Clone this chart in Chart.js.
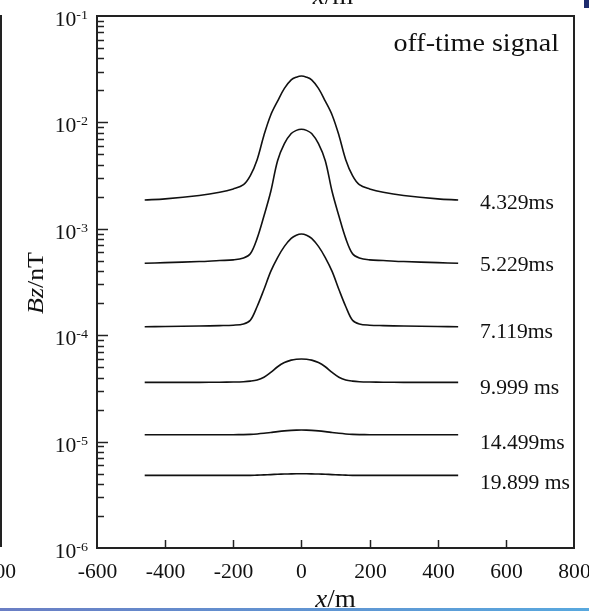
<!DOCTYPE html>
<html>
<head>
<meta charset="utf-8">
<script src="https://cdn.jsdelivr.net/npm/chart.js@4.4.1/dist/chart.umd.min.js"></script>
<style>
  html, body { margin: 0; padding: 0; background: #fff; }
  canvas { display: block; }
</style>
</head>
<body>
<canvas id="offTimeChart" width="589" height="611"></canvas>
<script>
// Profile positions (m)
const xPos = [-460, -400, -300, -240, -200, -170, -150, -130, -110, -90, -70, -50, -30, -15, 0,
              15, 30, 50, 70, 90, 110, 130, 150, 170, 200, 240, 300, 400, 460];

// Bz (nT), one array per delay time
const bz4329 = [1.866e-3, 1.910e-3, 2.056e-3, 2.203e-3, 2.371e-3, 2.600e-3, 3.162e-3, 4.467e-3, 7.586e-3, 1.175e-2, 1.585e-2, 2.089e-2, 2.512e-2, 2.661e-2, 2.729e-2,
                2.661e-2, 2.512e-2, 2.089e-2, 1.585e-2, 1.175e-2, 7.586e-3, 4.467e-3, 3.162e-3, 2.600e-3, 2.371e-3, 2.203e-3, 2.056e-3, 1.910e-3, 1.866e-3];
const bz5229 = [4.742e-4, 4.808e-4, 4.920e-4, 5.035e-4, 5.105e-4, 5.309e-4, 5.821e-4, 8.128e-4, 1.318e-3, 2.239e-3, 4.365e-3, 6.310e-3, 7.852e-3, 8.414e-3, 8.610e-3,
                8.414e-3, 7.852e-3, 6.310e-3, 4.365e-3, 2.239e-3, 1.318e-3, 8.128e-4, 5.821e-4, 5.309e-4, 5.105e-4, 5.035e-4, 4.920e-4, 4.808e-4, 4.742e-4];
const bz7119 = [1.202e-4, 1.208e-4, 1.219e-4, 1.230e-4, 1.242e-4, 1.274e-4, 1.380e-4, 1.862e-4, 2.692e-4, 3.981e-4, 5.370e-4, 6.839e-4, 8.128e-4, 8.710e-4, 8.933e-4,
                8.710e-4, 8.128e-4, 6.839e-4, 5.370e-4, 3.981e-4, 2.692e-4, 1.862e-4, 1.380e-4, 1.274e-4, 1.242e-4, 1.230e-4, 1.219e-4, 1.208e-4, 1.202e-4];
const bz9999 = [3.606e-5, 3.606e-5, 3.606e-5, 3.614e-5, 3.631e-5, 3.656e-5, 3.698e-5, 3.793e-5, 4.027e-5, 4.467e-5, 5.050e-5, 5.530e-5, 5.830e-5, 5.940e-5, 5.970e-5,
                5.940e-5, 5.830e-5, 5.530e-5, 5.050e-5, 4.467e-5, 4.027e-5, 3.793e-5, 3.698e-5, 3.656e-5, 3.631e-5, 3.614e-5, 3.606e-5, 3.606e-5, 3.606e-5];
const bz14499 = [1.161e-5, 1.161e-5, 1.161e-5, 1.161e-5, 1.161e-5, 1.164e-5, 1.169e-5, 1.180e-5, 1.197e-5, 1.219e-5, 1.242e-5, 1.262e-5, 1.276e-5, 1.282e-5, 1.285e-5,
                 1.282e-5, 1.276e-5, 1.262e-5, 1.242e-5, 1.219e-5, 1.197e-5, 1.180e-5, 1.169e-5, 1.164e-5, 1.161e-5, 1.161e-5, 1.161e-5, 1.161e-5, 1.161e-5];
const bz19899 = [4.819e-6, 4.819e-6, 4.819e-6, 4.819e-6, 4.819e-6, 4.819e-6, 4.819e-6, 4.842e-6, 4.864e-6, 4.898e-6, 4.932e-6, 4.955e-6, 4.977e-6, 4.989e-6, 4.989e-6,
                 4.989e-6, 4.977e-6, 4.955e-6, 4.932e-6, 4.898e-6, 4.864e-6, 4.842e-6, 4.819e-6, 4.819e-6, 4.819e-6, 4.819e-6, 4.819e-6, 4.819e-6, 4.819e-6];

const curveLabels = ['4.329ms', '5.229ms', '7.119ms', '9.999 ms', '14.499ms', '19.899 ms'];
const xTicks = [-600, -400, -200, 0, 200, 400, 600, 800];
const yExponents = [-1, -2, -3, -4, -5, -6];

const series = [bz4329, bz5229, bz7119, bz9999, bz14499, bz19899];
const labelDy = [2, 1, 4, 5, 7, 7];
const SERIF = '"Liberation Serif", "Times New Roman", serif';
const SX = 1.08; // source font is a touch wider than Liberation Serif

function drawText(ctx, s, x, y, font, align) {
    ctx.save();
    ctx.font = font;
    const w = ctx.measureText(s).width * SX;
    const x0 = align === 'right' ? x - w : align === 'center' ? x - w / 2 : x;
    ctx.translate(x0, y);
    ctx.scale(SX, 1);
    ctx.fillText(s, 0, 0);
    ctx.restore();
    return w;
}

// pieces: [[text, italic], ...] drawn centred on cx
function drawMixed(ctx, pieces, cx, y, size) {
    const fonts = pieces.map(p => (p[1] ? 'italic ' : '') + size + 'px ' + SERIF);
    let total = 0;
    pieces.forEach((p, i) => { ctx.font = fonts[i]; total += ctx.measureText(p[0]).width * SX; });
    let x = cx - total / 2;
    pieces.forEach((p, i) => { x += drawText(ctx, p[0], x, y, fonts[i], 'left'); });
}

const frame = {
    id: 'frame',
    afterDraw(chart) {
        const ctx = chart.ctx;
        const area = chart.chartArea;
        const xs = chart.scales.x;
        const ys = chart.scales.y;
        ctx.save();
        ctx.fillStyle = '#111';
        ctx.strokeStyle = '#222';
        ctx.textBaseline = 'alphabetic';
        ctx.textAlign = 'left';

        // plot box
        ctx.lineWidth = 2;
        ctx.strokeRect(area.left, area.top, area.right - area.left, area.bottom - area.top);

        // x ticks (inside) and labels
        ctx.lineWidth = 1.5;
        xTicks.forEach(v => {
            const px = Math.round(xs.getPixelForValue(v)) + 0.5;
            if (v > -600 && v < 800) {
                ctx.beginPath();
                ctx.moveTo(px, area.bottom);
                ctx.lineTo(px, area.bottom - 8);
                ctx.stroke();
            }
            drawText(ctx, String(v), px, area.bottom + 30, '20px ' + SERIF, 'center');
        });

        // y ticks: majors at decades, minors 2..9
        yExponents.forEach(e => {
            const py = Math.round(ys.getPixelForValue(Math.pow(10, e))) + 0.5;
            if (e < -1 && e > -6) {
                ctx.beginPath();
                ctx.moveTo(area.left, py);
                ctx.lineTo(area.left + 11, py);
                ctx.stroke();
            }
            if (e > -6) {
                for (let m = 2; m <= 9; m++) {
                    const pm = Math.round(ys.getPixelForValue(m * Math.pow(10, e - 1))) + 0.5;
                    ctx.beginPath();
                    ctx.moveTo(area.left, pm);
                    ctx.lineTo(area.left + 7, pm);
                    ctx.stroke();
                }
            }
            const ew = drawText(ctx, String(e), area.left - 9, py + 2, '13px ' + SERIF, 'right');
            drawText(ctx, '10', area.left - 9 - ew, py + 9, '20px ' + SERIF, 'right');
        });

        // curve labels at the right end of each profile
        series.forEach((s, i) => {
            const py = ys.getPixelForValue(s[s.length - 1]) + labelDy[i];
            drawText(ctx, curveLabels[i], 480, py + 7, '20px ' + SERIF, 'left');
        });

        drawText(ctx, 'off-time signal', 559, 51, '26px ' + SERIF, 'right');

        // axis titles
        drawMixed(ctx, [['x', true], ['/m', false]], (area.left + area.right) / 2, 607, 25);
        ctx.save();
        ctx.translate(35, 283);
        ctx.rotate(-Math.PI / 2);
        drawMixed(ctx, [['B', true], ['z', true], ['/nT', false]], 0, 8, 24);
        ctx.restore();

        // neighbouring panels cut by the crop
        drawMixed(ctx, [['x', true], ['/m', false]], 333, 4, 25);
        ctx.lineWidth = 2;
        ctx.beginPath();
        ctx.moveTo(1, 15);
        ctx.lineTo(1, 547);
        ctx.stroke();
        drawText(ctx, '800', 16, area.bottom + 30, '20px ' + SERIF, 'right');
        ctx.fillStyle = '#1d2b6e';
        ctx.fillRect(584, 0, 5, 8);

        const g = ctx.createLinearGradient(0, 0, chart.width, 0);
        g.addColorStop(0, '#6a7ec4');
        g.addColorStop(1, '#58a8de');
        ctx.fillStyle = g;
        ctx.fillRect(0, 608, chart.width, 3);
        ctx.restore();
    }
};

window.addEventListener('DOMContentLoaded', () => {
    new Chart(document.getElementById('offTimeChart'), {
        type: 'line',
        data: {
            datasets: series.map((s, i) => ({
                label: curveLabels[i],
                data: xPos.map((x, j) => ({ x: x, y: s[j] })),
                borderColor: '#111',
                borderWidth: 1.6,
                pointRadius: 0,
                fill: false,
                tension: 0.35
            }))
        },
        options: {
            responsive: false,
            animation: false,
            devicePixelRatio: 1,
            layout: { padding: { left: 97, right: 15, top: 16, bottom: 63 } },
            scales: {
                x: {
                    type: 'linear', min: -600, max: 800,
                    ticks: { display: false, stepSize: 200 },
                    grid: { display: false, drawTicks: false },
                    border: { display: false }
                },
                y: {
                    type: 'logarithmic', min: 1e-6, max: 1e-1,
                    ticks: { display: false },
                    grid: { display: false, drawTicks: false },
                    border: { display: false }
                }
            },
            plugins: {
                legend: { display: false },
                tooltip: { enabled: false }
            }
        },
        plugins: [frame]
    });
});
</script>
</body>
</html>
